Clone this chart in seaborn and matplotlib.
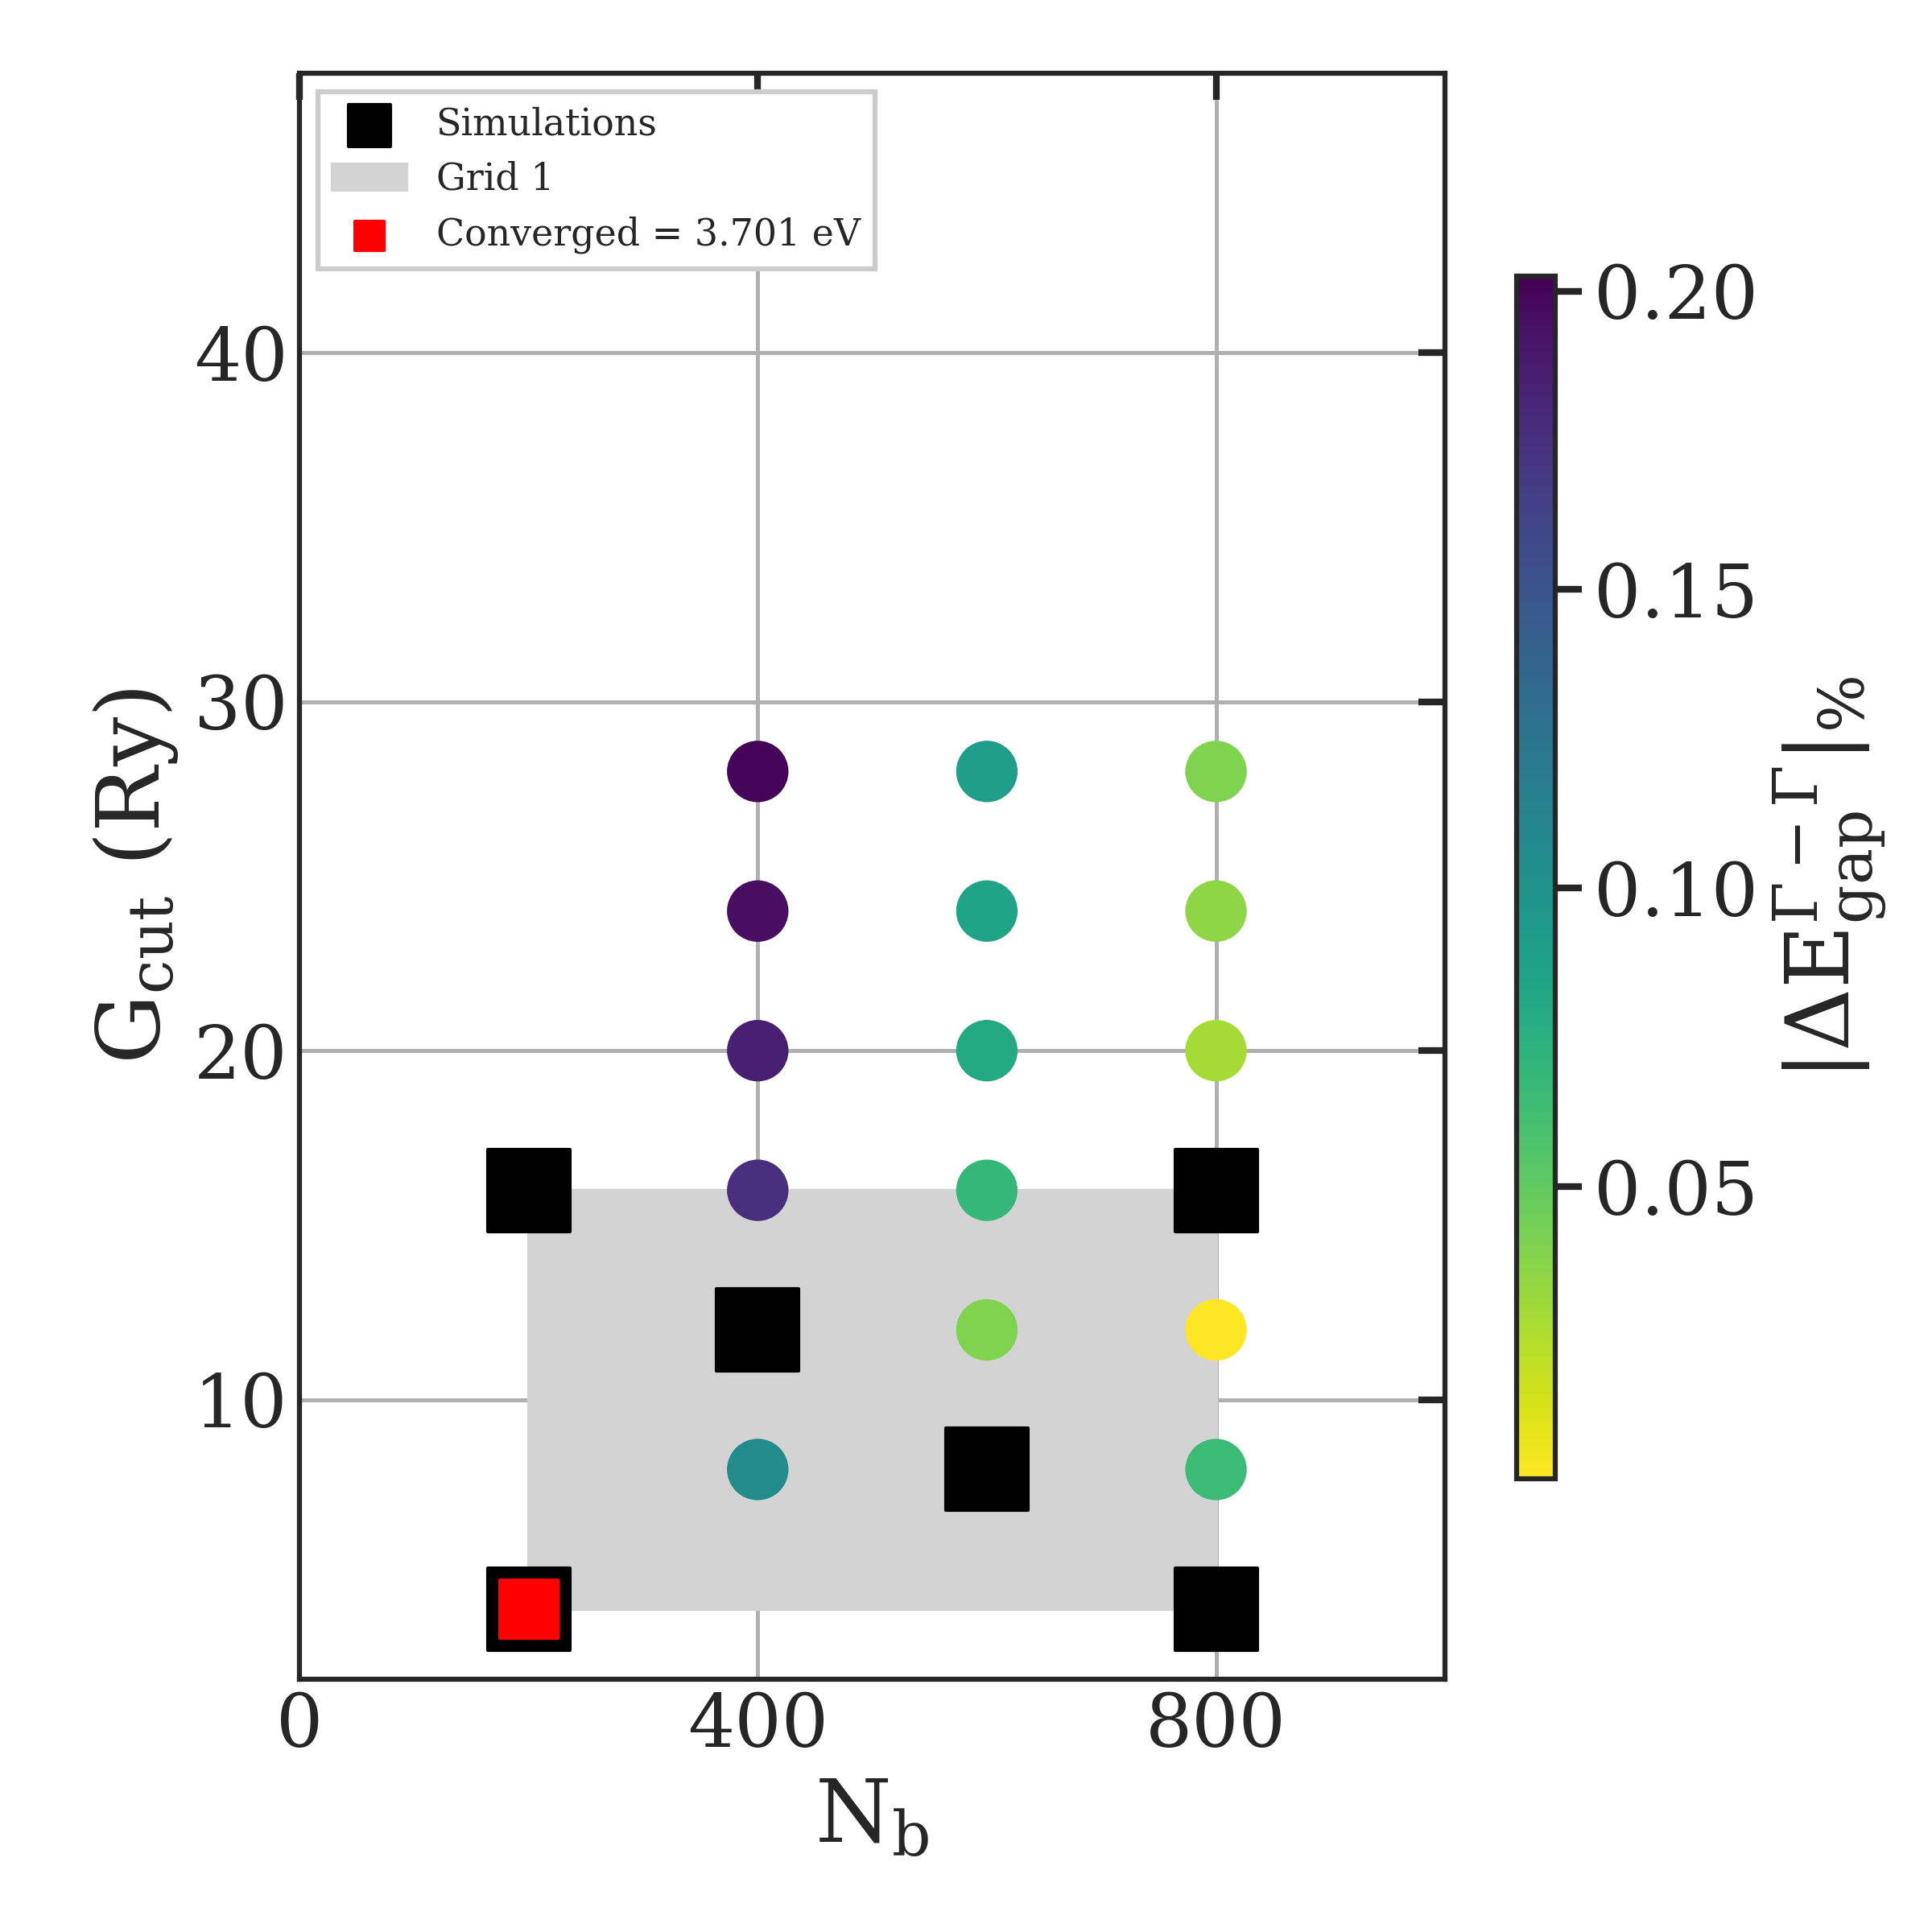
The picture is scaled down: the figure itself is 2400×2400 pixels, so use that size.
import numpy as np
import pandas as pd
import matplotlib
matplotlib.use("Agg")
import matplotlib.pyplot as plt
import seaborn as sns
from matplotlib.patches import Rectangle

# simulations (black squares)
sim_nb = [200, 400, 600, 800, 800, 200]
sim_g = [16, 12, 8, 16, 4, 4]

# converged point
conv_nb = [200]
conv_g = [4]

# interpolated points with error
pts_nb = [400, 400, 400, 400, 400, 600, 600, 600, 600, 600, 800, 800, 800, 800, 800]
pts_g = [28, 24, 20, 16, 8, 28, 24, 20, 16, 12, 28, 24, 20, 12, 8]
pts_err = [0.200, 0.195, 0.185, 0.175, 0.105, 0.090, 0.085, 0.080, 0.068, 0.040,
           0.040, 0.035, 0.028, 0.001, 0.065]

sns.set_style("white")
plt.rcParams['font.family'] = ['DejaVu Serif']
plt.rcParams['mathtext.fontset'] = 'dejavuserif'

fig = plt.figure(figsize=(8, 8), dpi=300)
ax = fig.add_axes([0.155, 0.131, 0.593, 0.831])

ax.add_patch(Rectangle((200, 4), 600, 12, color='lightgray', zorder=1, label='Grid 1'))
ax.grid(True, color='#b0b0b0', lw=1.2, zorder=0)
ax.set_axisbelow(True)

df = pd.DataFrame({'nb': pts_nb, 'g': pts_g, 'err': pts_err})
norm = plt.Normalize(0.001, 0.2025)
sc = ax.scatter(df['nb'], df['g'], c=df['err'], cmap='viridis_r', norm=norm, s=300, zorder=3)
ax.scatter(sim_nb, sim_g, marker='s', color='black', s=600, zorder=4, label='Simulations')
ax.scatter(conv_nb, conv_g, marker='s', color='red', s=300, zorder=5, label='Converged = 3.701 eV')

ax.set_xlim(0, 1000)
ax.set_ylim(2, 48)
ax.set_xticks([0, 400, 800])
ax.set_yticks([10, 20, 30, 40])
ax.tick_params(direction='in', top=True, right=True, length=8, width=2, labelsize=22)
for s in ax.spines.values():
    s.set_linewidth(1.5)
ax.set_xlabel(r'$\mathrm{N_b}$', fontsize=26)
ax.set_ylabel(r'$\mathrm{G_{cut}}$ (Ry)', fontsize=26)

h, l = ax.get_legend_handles_labels()
order = [l.index('Simulations'), l.index('Grid 1'), l.index('Converged = 3.701 eV')]
leg = ax.legend([h[i] for i in order], [l[i] for i in order], loc='upper left',
                fontsize=11, markerscale=0.5, fancybox=False, framealpha=1)
leg.get_frame().set_linewidth(1.5)

cax = fig.add_axes([0.785, 0.2345, 0.02, 0.6225])
cb = fig.colorbar(sc, cax=cax)
cb.set_ticks([0.05, 0.10, 0.15, 0.20])
cb.ax.tick_params(labelsize=22, width=2, length=8)
cb.outline.set_linewidth(1.5)
cb.set_label(r'$|\Delta\mathrm{E}^{\Gamma-\Gamma}_{\mathrm{gap}}|_{\%}$', fontsize=26)

fig.savefig('out.png', dpi=300)
